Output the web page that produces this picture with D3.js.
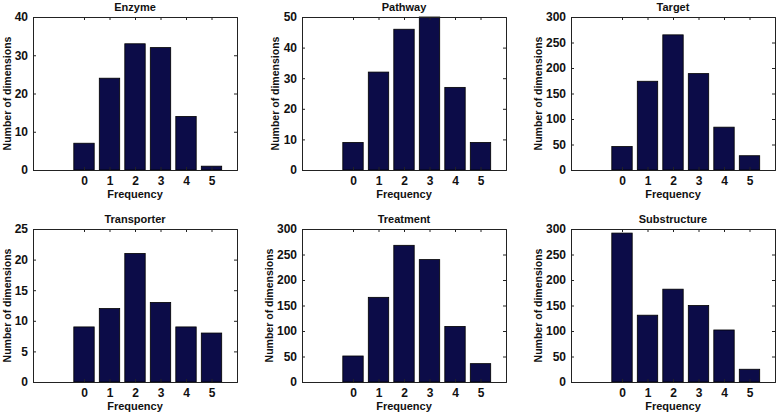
<!DOCTYPE html>
<html><head><meta charset="utf-8">
<script src="https://cdn.jsdelivr.net/npm/d3@7/dist/d3.min.js"></script>
<style>body{margin:0;background:#fff;} svg{display:block;} text{font-family:"Liberation Sans",Arial,sans-serif;font-weight:bold;fill:#111;}</style>
</head><body>
<svg id="c" width="778" height="412"></svg>
<script>
const categories = [0, 1, 2, 3, 4, 5];
const titles = ["Enzyme", "Pathway", "Target", "Transporter", "Treatment", "Substructure"];
const enzyme = [7, 24, 33, 32, 14, 1];
const pathway = [9, 32, 46, 50, 27, 9];
const target = [46, 174, 265, 189, 84, 28];
const transporter = [9, 12, 21, 13, 9, 8];
const treatment = [51, 166, 268, 240, 109, 36];
const substructure = [292, 131, 182, 150, 102, 25];
const yMax = [40, 50, 300, 25, 300, 300];
const yTicks = [[0,10,20,30,40],[0,10,20,30,40,50],[0,50,100,150,200,250,300],[0,5,10,15,20,25],[0,50,100,150,200,250,300],[0,50,100,150,200,250,300]];
const seriesList = [enzyme, pathway, target, transporter, treatment, substructure];

const svg = d3.select("#c");
const lefts = [33, 302, 571], tops = [17, 229];
const W = 204, H = 153;
const barColor = "#0c0c48";

seriesList.forEach((vals, i) => {
  const col = i % 3, row = Math.floor(i / 3);
  const g = svg.append("g").attr("transform", `translate(${lefts[col]},${tops[row]})`);
  const x = d3.scaleLinear().domain([-2, 6]).range([0, W]);
  const y = d3.scaleLinear().domain([0, yMax[i]]).range([H, 0]);
  g.append("rect").attr("x",0).attr("y",0).attr("width",W).attr("height",H).attr("fill","#fff");
  g.selectAll("rect.bar").data(vals).join("rect").attr("class","bar")
    .attr("x",(d,j)=>x(categories[j]-0.4)).attr("width",x(0.8)-x(0))
    .attr("y",d=>y(d)).attr("height",d=>H-y(d))
    .attr("fill",barColor).attr("stroke","#000").attr("stroke-width",0.8);
  const xb = d3.axisBottom(x).tickValues(categories).tickSize(-3).tickPadding(6).tickFormat(d3.format("d"));
  const xt = d3.axisTop(x).tickValues(categories).tickSize(-3).tickFormat("");
  const yl = d3.axisLeft(y).tickValues(yTicks[i]).tickSize(-3).tickPadding(5).tickFormat(d3.format("d"));
  const yr = d3.axisRight(y).tickValues(yTicks[i]).tickSize(-3).tickFormat("");
  const yAxisG = g.append("g").call(yl);
  const axes = [
    g.append("g").attr("transform",`translate(0,${H})`).call(xb),
    g.append("g").call(xt),
    yAxisG,
    g.append("g").attr("transform",`translate(${W},0)`).call(yr)
  ];
  axes.forEach(a => {
    a.select(".domain").attr("stroke","#222").attr("stroke-width",1);
    a.selectAll(".tick line").attr("stroke","#222");
    a.selectAll("text").attr("font-size","12px").attr("font-weight","bold").attr("fill","#111")
      .attr("font-family","Liberation Sans, Arial, sans-serif");
  });
  let tw = 0;
  yAxisG.selectAll(".tick text").each(function(){ tw = Math.max(tw, this.getBBox().width); });
  g.append("text").attr("x",W/2).attr("y",-6).attr("text-anchor","middle").attr("font-size","11px").text(titles[i]);
  g.append("text").attr("x",W/2).attr("y",H+28).attr("text-anchor","middle").attr("font-size","11px").text("Frequency");
  const lx = Math.max(-(tw + 9), -lefts[col] + 11);
  g.append("text").attr("transform",`translate(${lx},${H/2}) rotate(-90)`).attr("text-anchor","middle").attr("font-size","10.5px").text("Number of dimensions");
});
</script>
</body></html>
